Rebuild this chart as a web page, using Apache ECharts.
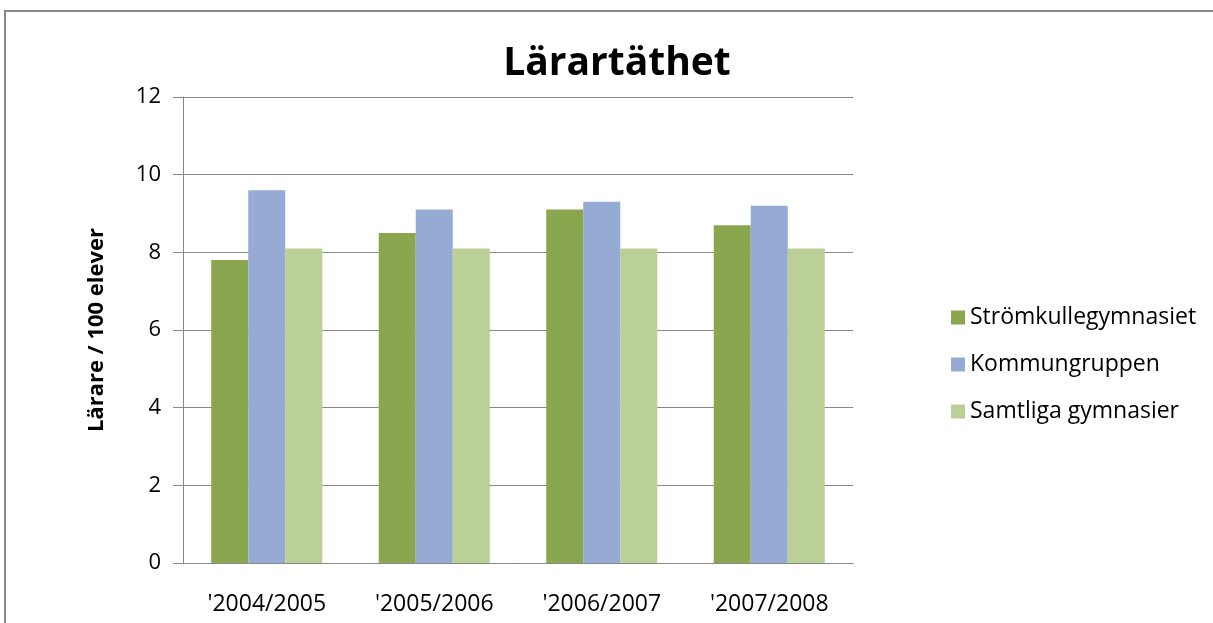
<!DOCTYPE html>
<html>
<head>
<meta charset="utf-8">
<script src="https://cdn.jsdelivr.net/npm/echarts@6/dist/echarts.min.js"></script>
<style>
  html, body { margin: 0; padding: 0; background: #fff; }
  #chart { width: 1213px; height: 623px; }
</style>
</head>
<body>
<div id="chart"></div>
<script>
const categories = ["'2004/2005", "'2005/2006", "'2006/2007", "'2007/2008"];
const stromkulle = [7.8, 8.5, 9.1, 8.7];
const kommungruppen = [9.6, 9.1, 9.3, 9.2];
const samtliga = [8.1, 8.1, 8.1, 8.1];
const seriesNames = ["Strömkullegymnasiet", "Kommungruppen", "Samtliga gymnasier"];
const seriesColors = ["#8aa64f", "#95abd3", "#bbd097"];

const font = "'Open Sans', Lato, sans-serif";
const chart = echarts.init(document.getElementById("chart"));

function barSeries(name, data, color) {
  return {
    name,
    type: "bar",
    data,
    barGap: "0%",
    barCategoryGap: "33.7%",
    itemStyle: { color },
  };
}

chart.setOption({
  animation: false,
  textStyle: { fontFamily: font },
  graphic: [{
    type: "rect",
    shape: { x: 5, y: 11, width: 1400, height: 800 },
    style: { fill: "none", stroke: "#888", lineWidth: 2 },
    silent: true,
  }],
  title: {
    text: "Lärartäthet",
    left: 612,
    textAlign: "center",
    top: 39,
    textStyle: { fontFamily: font, fontSize: 39, fontWeight: "bold", color: "#000" },
  },
  legend: {
    orient: "vertical",
    left: 946,
    top: 301,
    itemWidth: 14,
    itemHeight: 14,
    itemGap: 24,
    icon: "rect",
    textStyle: { fontFamily: font, fontSize: 23, color: "#000" },
    data: seriesNames,
  },
  grid: { left: 183, right: 360, top: 97, bottom: 60 },
  xAxis: {
    type: "category",
    data: categories,
    axisLine: { lineStyle: { color: "#888" } },
    axisTick: { length: 10, lineStyle: { color: "#888" } },
    axisLabel: { fontFamily: font, fontSize: 23, color: "#000", margin: 30 },
  },
  yAxis: {
    type: "value",
    min: 0,
    max: 12,
    interval: 2,
    name: "Lärare / 100 elever",
    nameLocation: "middle",
    nameGap: 75,
    nameTextStyle: { fontFamily: font, fontSize: 22, fontWeight: "bold", color: "#000" },
    axisLine: { show: true, lineStyle: { color: "#888" } },
    axisTick: { show: true, length: 10, lineStyle: { color: "#888" } },
    axisLabel: { fontFamily: font, fontSize: 22, color: "#000", margin: 22 },
    splitLine: { lineStyle: { color: "#888" } },
  },
  series: [
    barSeries(seriesNames[0], stromkulle, seriesColors[0]),
    barSeries(seriesNames[1], kommungruppen, seriesColors[1]),
    barSeries(seriesNames[2], samtliga, seriesColors[2]),
  ],
});
</script>
</body>
</html>
